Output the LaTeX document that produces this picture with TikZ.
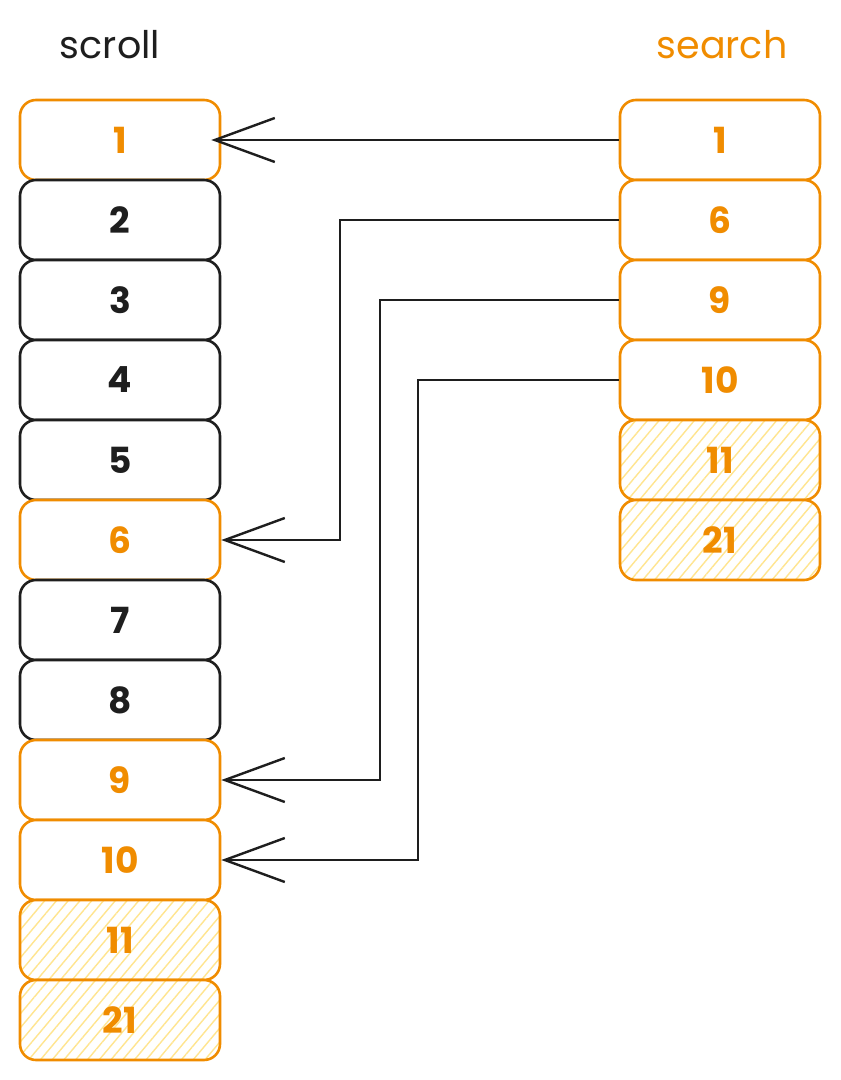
\documentclass[tikz,border=0pt]{standalone}
\usepackage{fontspec}
\setmainfont{Poppins}
\usetikzlibrary{arrows.meta,patterns.meta}
\definecolor{ink}{HTML}{1E1E1E}
\definecolor{exorange}{HTML}{F08C00}
\definecolor{hatch}{HTML}{FFE58F}
\tikzset{
  cell/.style={draw, line width=1.3pt, rounded corners=8pt, minimum width=100pt, minimum height=40pt, inner sep=0pt, font=\fontsize{18}{20}\selectfont\bfseries, fill=white},
  plain/.style={cell, draw=ink, text=ink},
  hit/.style={cell, draw=exorange, text=exorange},
  hatched/.style={hit, preaction={fill=white}, pattern={Lines[angle=50,distance=4.5pt,line width=0.7pt]}, pattern color=hatch},
  title/.style={font=\fontsize{19}{22}\selectfont},
  link/.style={draw=ink, line width=1.2pt, -{Straight Barb[length=30pt,width=22pt,line width=1.2pt]}},
}
\begin{document}
\begin{tikzpicture}[x=0.5pt,y=-0.5pt]
\useasboundingbox (0,0) rectangle (840,1080);
\node[title, text=ink] (tscroll) at (110,45) {scroll};
\node[title, text=exorange] (tsearch) at (722,45) {search};
% left column
\node[hit] (l1) at (120,140) {1};
\node[plain] (l2) at (120,220) {2};
\node[plain] (l3) at (120,300) {3};
\node[plain] (l4) at (120,380) {4};
\node[plain] (l5) at (120,460) {5};
\node[hit] (l6) at (120,540) {6};
\node[plain] (l7) at (120,620) {7};
\node[plain] (l8) at (120,700) {8};
\node[hit] (l9) at (120,780) {9};
\node[hit] (l10) at (120,860) {10};
\node[hatched] (l11) at (120,940) {11};
\node[hatched] (l21) at (120,1020) {21};
% right column
\node[hit] (r1) at (720,140) {1};
\node[hit] (r6) at (720,220) {6};
\node[hit] (r9) at (720,300) {9};
\node[hit] (r10) at (720,380) {10};
\node[hatched] (r11) at (720,460) {11};
\node[hatched] (r21) at (720,540) {21};
% links
\draw[link] (r1.west) -- ([xshift=-5]l1.east);
\coordinate (b6) at (340,220);
\coordinate (b9) at (380,300);
\coordinate (b10) at (418,380);
\draw[link] (r6.west) -- (b6) |- (l6.east);
\draw[link] (r9.west) -- (b9) |- (l9.east);
\draw[link] (r10.west) -- (b10) |- (l10.east);
\end{tikzpicture}
\end{document}
